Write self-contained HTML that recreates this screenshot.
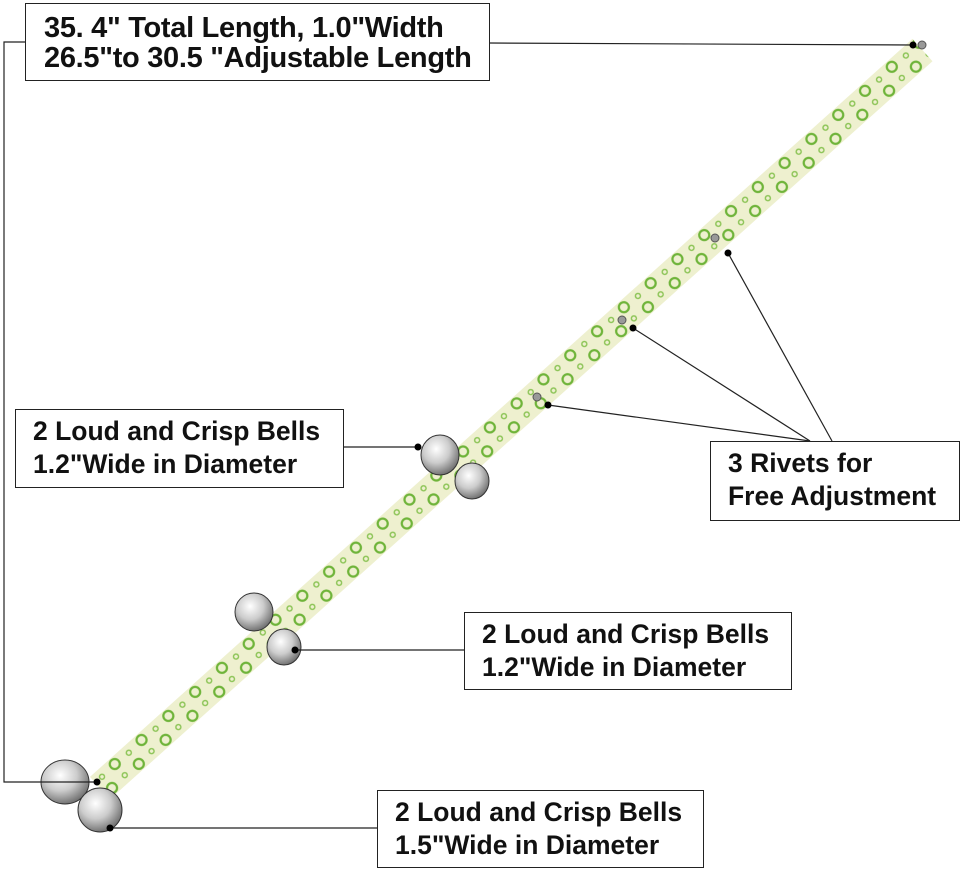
<!DOCTYPE html>
<html><head><style>
body{margin:0;background:#fff;width:962px;height:871px;overflow:hidden;position:relative;font-family:"Liberation Sans",sans-serif}
.b{position:absolute;border:1.5px solid #222;background:#fff;font-weight:bold;font-size:26.5px;line-height:33px;color:#111;box-sizing:border-box;padding-left:17px;padding-top:5px;white-space:nowrap}
.t{font-size:29px;line-height:30px;padding-left:18px;padding-top:9px;letter-spacing:-0.3px}
svg{position:absolute;left:0;top:0}
</style></head><body>
<svg width="962" height="871">
<defs>
<pattern id="p" width="36" height="30" patternUnits="userSpaceOnUse">
<rect width="36" height="30" fill="#eef0cf"/>
<circle cx="9" cy="8" r="5" fill="none" stroke="#6fb43a" stroke-width="2.2"/>
<circle cx="27" cy="22" r="5" fill="none" stroke="#6fb43a" stroke-width="2.2"/>
<circle cx="27" cy="7" r="2.5" fill="none" stroke="#8cc456" stroke-width="1.5"/>
<circle cx="9" cy="23" r="2.5" fill="none" stroke="#8cc456" stroke-width="1.5"/>
</pattern>
<radialGradient id="s" cx="40%" cy="35%" r="70%"><stop offset="0" stop-color="#fff"/><stop offset=".5" stop-color="#ccc"/><stop offset="1" stop-color="#666"/></radialGradient>
</defs>
<g transform="translate(100,788) rotate(-41.9)">
<rect x="0" y="-15" width="1105" height="30" fill="url(#p)"/>
</g>
<circle cx="922" cy="45" r="4" fill="#999" stroke="#555"/>
<circle cx="715" cy="238" r="4" fill="#999" stroke="#555"/>
<circle cx="622" cy="320" r="4" fill="#999" stroke="#555"/>
<circle cx="537" cy="397" r="4" fill="#999" stroke="#555"/>
<g stroke="#333" stroke-width="1">
<ellipse cx="440" cy="455" rx="19" ry="20" fill="url(#s)"/>
<ellipse cx="472" cy="481" rx="17" ry="18" fill="url(#s)"/>
<ellipse cx="254" cy="612" rx="19" ry="19" fill="url(#s)"/>
<ellipse cx="284" cy="647" rx="17" ry="18" fill="url(#s)"/>
<ellipse cx="65" cy="782" rx="24" ry="22" fill="url(#s)"/>
<ellipse cx="100" cy="810" rx="22" ry="22" fill="url(#s)"/>
</g>
<g stroke="#222" stroke-width="1.2" fill="none">
<polyline points="25,42 4,42 4,782 97,782"/>
<line x1="489" y1="43" x2="913" y2="45"/>
<line x1="343" y1="447" x2="418" y2="447"/>
<line x1="464" y1="650" x2="295" y2="650"/>
<line x1="377" y1="828" x2="110" y2="828"/>
<line x1="832" y1="441" x2="728" y2="253"/>
<line x1="810" y1="441" x2="633" y2="328"/>
<line x1="810" y1="441" x2="548" y2="405"/>
</g>
<g fill="#000">
<circle cx="913" cy="45" r="3.5"/><circle cx="418" cy="447" r="3.5"/><circle cx="295" cy="650" r="3.5"/>
<circle cx="110" cy="828" r="3.5"/><circle cx="97" cy="782" r="3.5"/><circle cx="728" cy="253" r="3.5"/>
<circle cx="633" cy="328" r="3.5"/><circle cx="548" cy="405" r="3.5"/>
</g>
</svg>
<div class="b t" style="left:25px;top:3px;width:465px;height:78px;">35. 4" Total Length, 1.0"Width<br>26.5"to 30.5 "Adjustable Length</div>
<div class="b" style="left:15px;top:409px;width:329px;height:79px;">2 Loud and Crisp Bells<br>1.2"Wide in Diameter</div>
<div class="b" style="left:710px;top:441px;width:250px;height:80px;">3 Rivets for<br>Free Adjustment</div>
<div class="b" style="left:464px;top:612px;width:328px;height:78px;">2 Loud and Crisp Bells<br>1.2"Wide in Diameter</div>
<div class="b" style="left:377px;top:790px;width:327px;height:78px;">2 Loud and Crisp Bells<br>1.5"Wide in Diameter</div>
</body></html>
